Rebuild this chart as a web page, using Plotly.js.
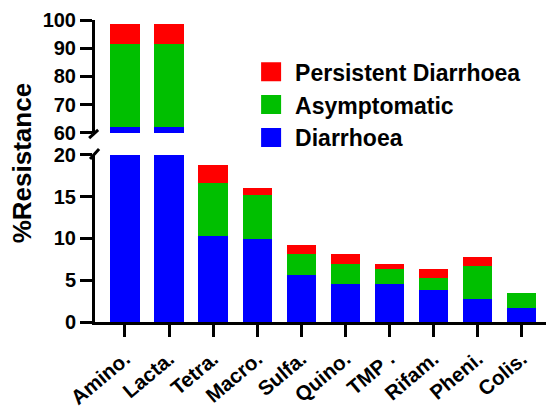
<!DOCTYPE html>
<html>
<head>
<meta charset="utf-8">
<script src="https://cdn.plot.ly/plotly-3.0.1.min.js"></script>
<style>html,body{margin:0;padding:0;background:#fff;}#chart{width:548px;height:408px;}</style>
</head>
<body>
<div id="chart"></div>
<script>
const categories = ['Amino.','Lacta.','Tetra.','Macro.','Sulfa.','Quino.','TMP .','Rifam.','Pheni.','Colis.'];
const diarrhoea = [62.0, 62.0, 10.3, 9.9, 5.6, 4.6, 4.6, 3.85, 2.8, 1.7];
const asymptomatic = [29.5, 29.5, 6.4, 5.3, 2.6, 2.4, 1.7, 1.45, 3.9, 1.8];
const persistent = [7.0, 7.0, 2.1, 0.8, 1.0, 1.2, 0.7, 1.0, 1.05, 0];

const seriesNames = ['Diarrhoea','Asymptomatic','Persistent Diarrhoea'];
const seriesValues = [diarrhoea, asymptomatic, persistent];
const seriesColors = ['#0000FF','#00BF00','#FF0000'];

const FONT = 'Liberation Sans, Arial, sans-serif';
const traces = [];
['', '2'].forEach(function (sfx) {
  seriesValues.forEach(function (vals, i) {
    traces.push({
      type: 'bar',
      x: categories,
      y: vals,
      name: seriesNames[i],
      legendgroup: 'g' + i,
      legendrank: 10 - i,
      showlegend: sfx === '',
      marker: {color: seriesColors[i], line: {width: 0}},
      xaxis: 'x' + sfx,
      yaxis: 'y' + sfx,
      hoverinfo: 'skip'
    });
  });
});

const tickFont = {family: FONT, size: 20, color: '#000', weight: 'bold'};
const xTickFont = {family: FONT, size: 20.5, color: '#000', weight: 'bold'};
const xr = [-0.68, 9.55];
const layout = {
  width: 548, height: 408,
  margin: {l: 95, r: 2, t: 20, b: 86},
  paper_bgcolor: '#fff', plot_bgcolor: 'rgba(0,0,0,0)',
  barmode: 'stack', bargap: 0.335,
  showlegend: true,
  legend: {
    x: 0.355, y: 0.90, xanchor: 'left', yanchor: 'top',
    traceorder: 'normal', tracegroupgap: 0,
    font: {family: FONT, size: 23, color: '#000', weight: 'bold'},
    bgcolor: 'rgba(0,0,0,0)'
  },
  xaxis: {
    type: 'category', range: xr, anchor: 'y',
    showline: true, linecolor: '#000', linewidth: 3,
    ticks: 'outside', ticklen: 12, tickwidth: 3, tickcolor: '#000',
    tickangle: -40, tickfont: xTickFont, ticklabelstandoff: 2,
    showgrid: false, zeroline: false, automargin: false
  },
  xaxis2: {
    type: 'category', range: xr, anchor: 'y2', matches: 'x',
    visible: false, showgrid: false, zeroline: false
  },
  yaxis: {
    domain: [0, 0.553], range: [0, 20], anchor: 'x',
    tickvals: [0, 5, 10, 15, 20],
    showline: true, linecolor: '#000', linewidth: 3,
    ticks: 'outside', ticklen: 12, tickwidth: 3, tickcolor: '#000',
    tickfont: tickFont, showgrid: false, zeroline: false, automargin: false
  },
  yaxis2: {
    domain: [0.626, 1], range: [60, 100], anchor: 'x2',
    tickvals: [60, 70, 80, 90, 100],
    showline: true, linecolor: '#000', linewidth: 3,
    ticks: 'outside', ticklen: 12, tickwidth: 3, tickcolor: '#000',
    tickfont: tickFont, showgrid: false, zeroline: false, automargin: false
  },
  annotations: [{
    text: '%Resistance', textangle: -90,
    xref: 'paper', yref: 'paper', x: -0.16, y: 0.525,
    xanchor: 'center', yanchor: 'middle', showarrow: false,
    font: {family: FONT, size: 26, color: '#000', weight: 'bold'}
  }],
  shapes: [
    {type: 'line', xref: 'paper', yref: 'paper', x0: -0.011, y0: 0.540, x1: 0.009, y1: 0.573, line: {color: '#000', width: 3}},
    {type: 'line', xref: 'paper', yref: 'paper', x0: -0.013, y0: 0.609, x1: 0.007, y1: 0.636, line: {color: '#000', width: 3}}
  ]
};

Plotly.newPlot('chart', traces, layout, {displayModeBar: false, staticPlot: true}).then(function () {
  document.querySelectorAll('#chart .legendpoints path').forEach(function (p) {
    p.setAttribute('d', 'M26,9.5H6V-9.5H26Z');
    p.removeAttribute('transform');
  });
});
</script>
</body>
</html>
